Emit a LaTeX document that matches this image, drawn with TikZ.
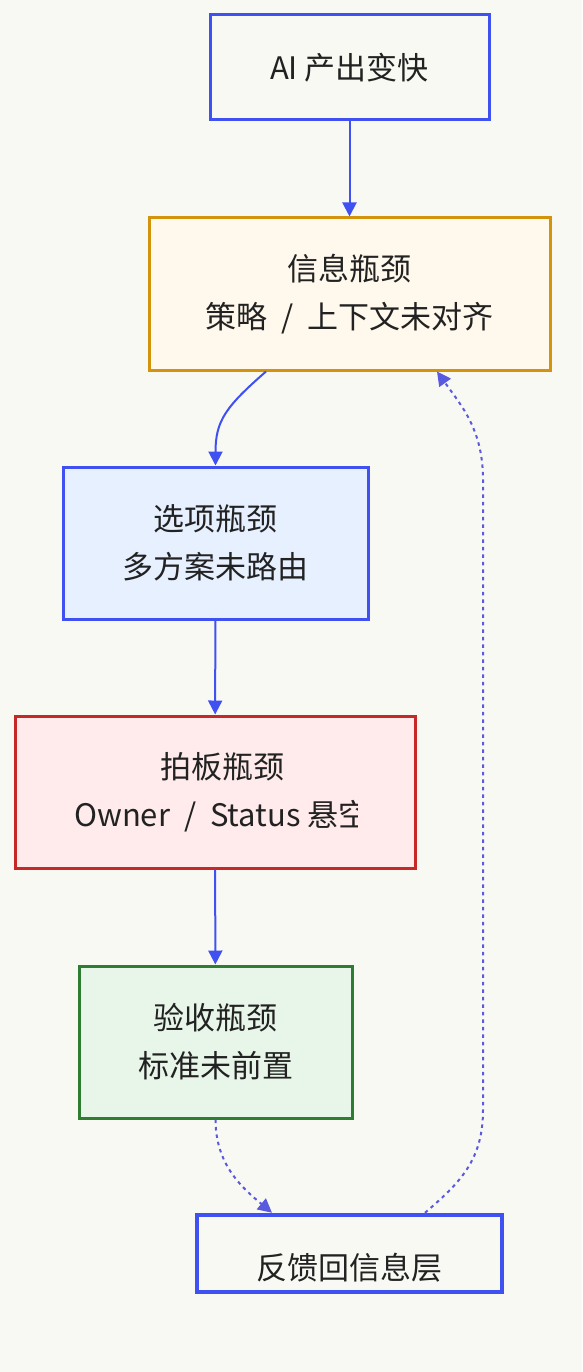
\documentclass[tikz,border=0pt]{standalone}
\usepackage{fontspec}
\setmainfont{Noto Sans CJK SC}
\usetikzlibrary{arrows.meta}
\definecolor{bgcol}{HTML}{F9F9F4}
\definecolor{linkcol}{HTML}{3F51F0}
\definecolor{dotcol}{HTML}{5A5AE0}
\definecolor{txtcol}{HTML}{222222}
\definecolor{infoline}{HTML}{D4930D}
\definecolor{infofill}{HTML}{FFF8EC}
\definecolor{optfill}{HTML}{E6F0FF}
\definecolor{decline}{HTML}{C62828}
\definecolor{decfill}{HTML}{FFEBEB}
\definecolor{accline}{HTML}{2E7D32}
\definecolor{accfill}{HTML}{E8F5E9}
\newcommand{\slsh}{\hspace{0.45em}/\hspace{0.45em}}
\tikzset{
  box/.style={draw, line width=3pt, rectangle, align=center, text=txtcol,
    font=\fontsize{31}{48}\selectfont, inner sep=0pt},
  boxtext/.style={align=center, text=txtcol, font=\fontsize{31}{48}\selectfont, inner sep=0pt},
  arr/.style={-{Triangle[length=14pt,width=14pt]}, draw=linkcol, line width=2pt},
  fb/.style={-{Triangle[length=14pt,width=14pt]}, draw=dotcol, line width=2pt,
    dash pattern=on 3.5pt off 4pt},
}
\begin{document}
\begin{tikzpicture}[x=1pt,y=-1pt]

    \fill [bgcol] (0,0) rectangle (582,1372);
    \useasboundingbox (0,0) rectangle (582,1372);

    \node [box, draw=linkcol, fill=bgcol, minimum width=279pt, minimum height=105pt] (ai) at (349.5,67.5) {AI 产出变快};
    \node [box, draw=infoline, fill=infofill, minimum width=401pt, minimum height=152pt] (info) at (349.5,294) {信息瓶颈\\策略\slsh 上下文未对齐};
    \node [box, draw=linkcol, fill=optfill, minimum width=305pt, minimum height=152pt] (option) at (215.5,543) {选项瓶颈\\多方案未路由};
    \node [box, draw=decline, fill=decfill, minimum width=400pt, minimum height=152pt] (decide) at (215,792) {};
    \begin{scope}
        \clip (15,716) rectangle (357,868);
        \node [boxtext] (decidetext) at (222,792) {拍板瓶颈\\Owner\slsh Status 悬空};
    \end{scope}
    \node [box, draw=accline, fill=accfill, minimum width=273pt, minimum height=152pt] (accept) at (215.5,1042) {验收瓶颈\\标准未前置};
    \node [box, draw=linkcol, line width=4.5pt, fill=bgcol, minimum width=305pt, minimum height=77pt] (back) at (349.5,1253.5) {};
    \node [boxtext] (backtext) at (349.5,1268) {反馈回信息层};

    \draw [arr] (ai) -- (info);
    \draw [arr] ([xshift=-83.5pt]info.south) .. controls +(-40,35) and +(0,-45) .. (option.north);
    \draw [arr] (option) -- (decide);
    \draw [arr] (decide) -- (accept);

    % feedback loop
    \coordinate (loopbot) at (483,1110);
    \coordinate (looptop) at (483,480);
    \draw [fb] (accept.south) .. controls +(0,45) and +(-30,-25) .. ([xshift=-77.5pt]back.north);
    \draw [fb] ([xshift=75.5pt]back.north) .. controls +(35,-30) and +(0,50) .. (loopbot)
        -- (looptop) .. controls +(0,-50) and +(25,35) .. ([xshift=87.5pt]info.south);

\end{tikzpicture}
\end{document}
